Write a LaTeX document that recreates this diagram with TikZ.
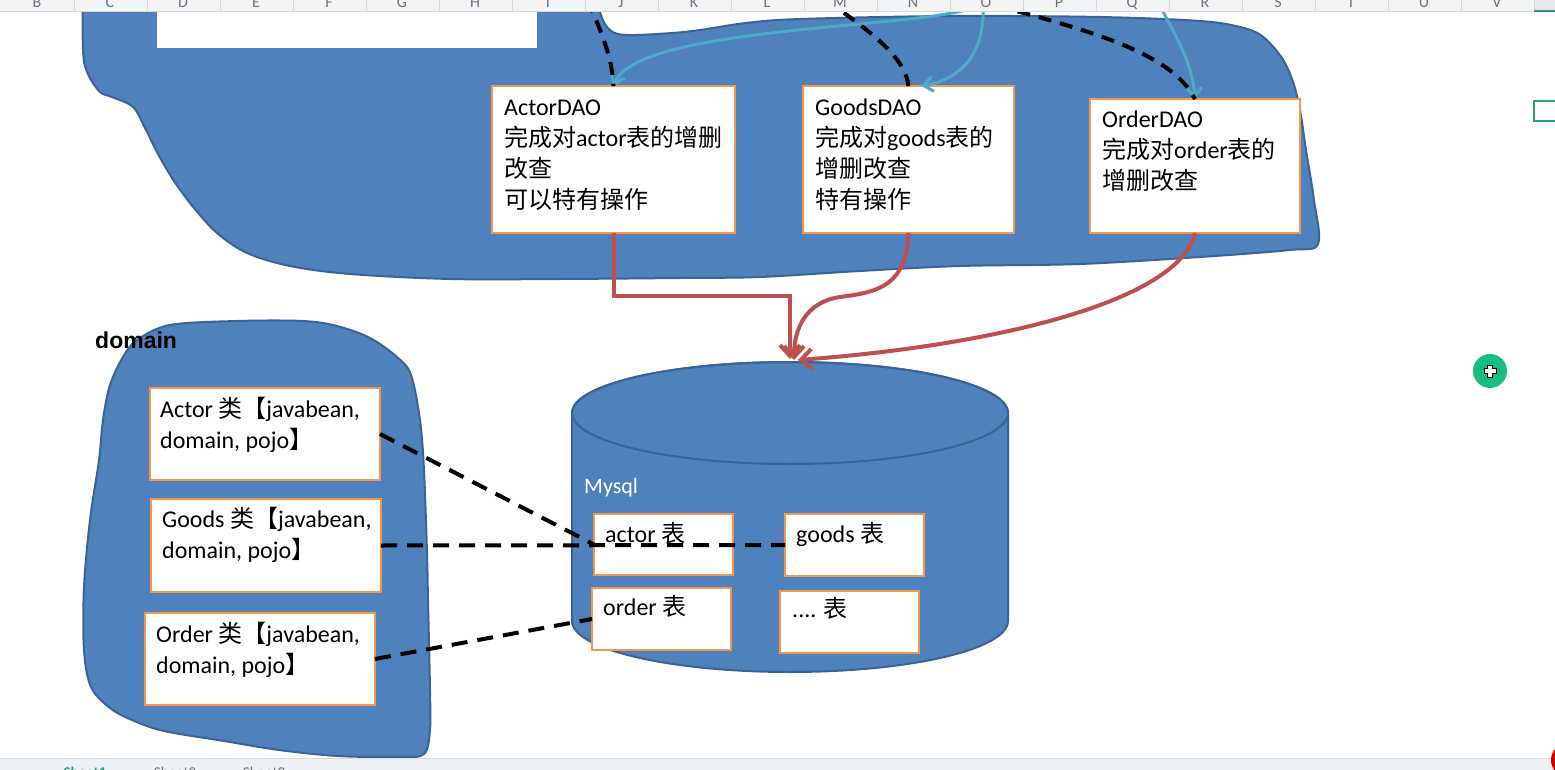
\documentclass[tikz,border=0pt]{standalone}
\usepackage{fontspec}
\setmainfont{Carlito}
\newfontfamily\zhfont{Noto Sans CJK SC}
\newfontfamily\labelfont{Liberation Sans}
\usetikzlibrary{arrows.meta}

\definecolor{blobblue}{HTML}{4F81BD}
\definecolor{blobedge}{HTML}{3B6496}
\definecolor{cardorange}{HTML}{F79646}
\definecolor{linkred}{HTML}{C0504D}
\definecolor{linkaqua}{HTML}{4BACC6}
\definecolor{hdrbg}{HTML}{F3F4F6}
\definecolor{hdrline}{HTML}{D6D9DE}
\definecolor{hdrtext}{HTML}{6E7277}
\definecolor{selgreen}{HTML}{2E9C78}
\definecolor{cursorgreen}{HTML}{18BE7F}
\definecolor{tabbg}{HTML}{EEF1F4}

\newcommand\zhtxt[1]{{\zhfont #1}}
\newcommand\cardfont{\fontsize{24}{31}\selectfont}
\newcommand\lnstrut{\rule{0pt}{22pt}}

\begin{document}
\begin{tikzpicture}[x=1pt,y=-1pt,
  blob/.style={fill=blobblue, draw=blobedge, line width=2pt, line join=round},
  card/.style={draw=cardorange, fill=white, line width=2.5pt, inner sep=0pt, outer sep=0pt, anchor=north west},
  txt/.style={anchor=north west, inner sep=0pt, align=left, font=\cardfont},
  kdash/.style={draw=black, line width=4pt, dash pattern=on 13pt off 9pt},
  kdashlong/.style={draw=black, line width=4pt, dash pattern=on 16pt off 10pt},
  redlink/.style={draw=linkred, line width=4pt, -{Straight Barb[length=11pt,width=20pt]}},
  aqualink/.style={draw=linkaqua, line width=3pt, -{Straight Barb[length=9pt,width=15pt]}},
  hdr/.style={anchor=base, inner sep=0pt, text=hdrtext, font=\fontsize{16}{16}\selectfont},
  tabtxt/.style={anchor=base, inner sep=0pt, font=\fontsize{15}{15}\selectfont}]

\useasboundingbox (0,0) rectangle (1555,770);
\clip (0,0) rectangle (1555,770);
\fill[white] (0,0) rectangle (1555,770);

% ---------- DAO layer ----------
\path[blob] (83,-30) -- plot[smooth, tension=0.55] coordinates {
  (83,-30) (83,50) (88,74) (100,92) (112,97) (133,107) (145,128) (158,154)
  (174,181) (194,208) (217,233) (247,253) (290,266) (350,274) (450,279)
  (560,279) (680,278) (760,277) (860,271) (960,266) (1080,264) (1200,257)
  (1290,250) (1318,244) (1314,200) (1306,150) (1300,110) (1293,82) (1282,58)
  (1262,36) (1240,27) (1200,21) (1100,17) (950,16) (800,19) (746,23) (700,30)
  (672,33) (627,35) (610,30) (600,12) (594,-30)} -- cycle;
\fill[white] (157,0) rectangle (537,48);

\node[card, minimum width=243pt, minimum height=147pt] (ad) at (492,86) {};
\node[txt] (adtx) at (504,93) {\lnstrut ActorDAO\\ \zhtxt{完成对}actor\zhtxt{表的增删}\\ \zhtxt{改查}\\ \zhtxt{可以特有操作}};

\node[card, minimum width=211pt, minimum height=147pt] (gd) at (803,86) {};
\node[txt] (gdtx) at (815,93) {\lnstrut GoodsDAO\\ \zhtxt{完成对}goods\zhtxt{表的}\\ \zhtxt{增删改查}\\ \zhtxt{特有操作}};

\node[card, minimum width=210pt, minimum height=134pt] (od) at (1090,99) {};
\node[txt] (odtx) at (1102,105) {\lnstrut OrderDAO\\ \zhtxt{完成对}order\zhtxt{表的}\\ \zhtxt{增删改查}};

% links entering the DAO boxes from above
\coordinate (dk1) at (588,0);
\coordinate (dk2) at (826,0);
\coordinate (dk3) at (975,0);
\coordinate (bsrc) at (983,0);
\coordinate (bsrc2) at (1157,0);

\draw[aqualink] (bsrc) .. controls (980,30) and (640,20) .. (ad.north);
\draw[aqualink] (bsrc) .. controls (986,50) and (965,78) .. (gd.80);
\draw[aqualink] (bsrc2) .. controls (1172,30) and (1192,60) .. (od.north);

\draw[kdash] (dk1) .. controls (600,30) and (612,55) .. (ad.north);
\draw[kdash] (dk2) .. controls (865,28) and (905,55) .. (gd.north);
\draw[kdash] (dk3) .. controls (1080,28) and (1170,50) .. (od.north);

% ---------- domain group ----------
\path[blob] plot[smooth cycle, tension=0.55] coordinates {
  (123,357) (110,385) (103,420) (99,460) (90,520) (84,587) (84,650) (91,687)
  (110,708) (132,720) (164,731) (224,741) (279,750) (338,756) (400,757)
  (424,754) (430,730) (430,690) (428,600) (427,553) (424,470) (420,420)
  (411,375) (397,357) (370,338) (337,326) (303,321) (237,321) (170,325) (137,340)};

\node[anchor=base west, inner sep=0pt, font=\labelfont\bfseries\fontsize{23}{23}\selectfont] (domlbl) at (95,348) {domain};

\node[card, minimum width=230pt, minimum height=92pt] (ac) at (150,388) {};
\node[txt] (actx) at (160,395) {\lnstrut Actor \zhtxt{类【}javabean,\\ domain, pojo\zhtxt{】}};

\node[card, minimum width=230pt, minimum height=93pt] (gc) at (151,499) {};
\node[txt] (gctx) at (162,505) {\lnstrut Goods \zhtxt{类【}javabean,\\ domain, pojo\zhtxt{】}};

\node[card, minimum width=230pt, minimum height=92pt] (oc) at (145,613) {};
\node[txt] (octx) at (156,620) {\lnstrut Order \zhtxt{类【}javabean,\\ domain, pojo\zhtxt{】}};

% ---------- database ----------
\path[blob] (572,413) -- (572,621) arc[start angle=180, end angle=0, x radius=218, y radius=51]
  -- (1008,413) arc[start angle=0, end angle=-180, x radius=218, y radius=51] -- cycle;
\draw[blobedge, line width=2pt] (790,413) ellipse[x radius=218, y radius=51];
\node[anchor=base west, inner sep=0pt, text=white, font=\fontsize{22}{22}\selectfont] (dblbl) at (584,493) {Mysql};

\node[card, minimum width=139pt, minimum height=61pt] (at) at (594,514) {};
\node[txt] (attx) at (605,520) {\lnstrut actor \zhtxt{表}};
\node[card, minimum width=139pt, minimum height=62pt] (gt) at (785,514) {};
\node[txt] (gttx) at (796,520) {\lnstrut goods \zhtxt{表}};
\node[card, minimum width=139pt, minimum height=62pt] (ot) at (592,588) {};
\node[txt] (ottx) at (603,593) {\lnstrut order \zhtxt{表}};
\node[card, minimum width=139pt, minimum height=62pt] (xt) at (780,591) {};
\node[txt] (xttx) at (792,595) {\lnstrut .... \zhtxt{表}};

\coordinate (dbA) at (790,359);
\coordinate (dbB) at (794,360);
\coordinate (dbC) at (798,360);

% DAO -> database
\draw[redlink] (ad.south) -- ++(0,63) -| (dbA);
\draw[redlink] (gd.south) .. controls (906,285) and (880,292) .. (840,297)
  .. controls (805,302) and (794,330) .. (dbB);
\draw[redlink] (od.south) .. controls (1180,300) and (1000,345) .. (dbC);

% classes <-> tables
\draw[kdashlong] (ac.east) -- (at.west);
\draw[kdashlong] (gc.east) -- (gt.west);
\draw[kdashlong] (oc.east) -- (ot.west);

% ---------- sheet chrome ----------
\fill[hdrbg] (0,0) rectangle (1555,12);
\fill[hdrline!60] (1534,0) rectangle (1555,12);
\draw[hdrline, line width=1pt] (0,12) -- (1555,12);
\foreach \k in {0,...,20} \draw[hdrline, line width=1pt] ({74+73*\k},0) -- ++(0,12);
\foreach \c [count=\i from 0] in {B,C,D,E,F,G,H,I,J,K,L,M,N,O,P,Q,R,S,T,U,V}
  \node[hdr] (col\c) at ({37+73*\i},8) {\c};
\draw[selgreen, line width=2pt] (1534,11) -- (1555,11);
\draw[selgreen, line width=2.5pt] (1534,101) rectangle (1562,121);

\fill[tabbg] (0,758) rectangle (1555,770);
\draw[hdrline, line width=1pt] (0,758) -- (1555,758);
\node[tabtxt, text=selgreen, font=\bfseries\fontsize{15}{15}\selectfont] (tab1) at (85,777) {Sheet1};
\node[tabtxt, text=hdrtext] (tab2) at (175,777) {Sheet2};
\node[tabtxt, text=hdrtext] (tab3) at (264,777) {Sheet3};
\fill[red!80!black] (1568,760) circle[radius=17];

% pointer
\fill[cursorgreen] (1490,371) circle[radius=17];
\draw[fill=white, draw=black, line width=0.9pt] (1487.5,365) -- (1492.5,365) -- (1492.5,368.5)
  -- (1496,368.5) -- (1496,373.5) -- (1492.5,373.5) -- (1492.5,377) -- (1487.5,377)
  -- (1487.5,373.5) -- (1484,373.5) -- (1484,368.5) -- (1487.5,368.5) -- cycle;
\end{tikzpicture}
\end{document}
